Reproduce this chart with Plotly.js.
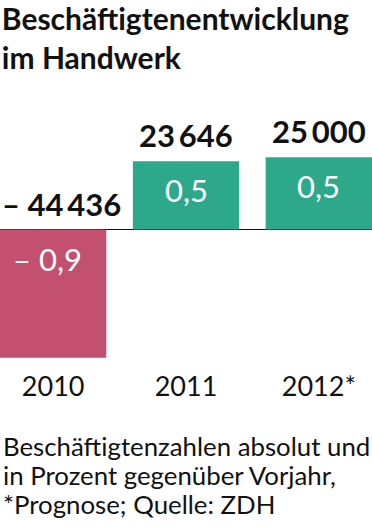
<!DOCTYPE html>
<html>
<head>
<meta charset="utf-8">
<script src="https://cdn.plot.ly/plotly-3.0.1.min.js"></script>
<style>
  html, body { margin: 0; padding: 0; background: #fff; }
  #chart { width: 372px; height: 527px; }
</style>
</head>
<body>
<div id="chart"></div>
<script>
// ---- data ----
const years = ['2010', '2011', '2012*'];
const absolut = [-44436, 23646, 25000];
const prozent = [-0.9, 0.5, 0.5];
const noteLines = [
  'Beschäftigtenzahlen absolut und',
  'in Prozent gegenüber Vorjahr,',
  '*Prognose; Quelle: ZDH'
];
const titleLines = ['Beschäftigtenentwicklung', 'im Handwerk'];

// ---- helpers ----
const FONT = 'Lato, "DejaVu Sans Condensed", sans-serif';
const BAR_WIDTH = 0.8;
function fmtAbs(n) {
  const s = Math.abs(n).toString().replace(/\B(?=(\d{3})+(?!\d))/g, '\u2009');
  return (n < 0 ? '\u2013 ' : '') + s;
}
function fmtPct(p) {
  const s = Math.abs(p).toFixed(1).replace('.', ',');
  return (p < 0 ? '\u2013 ' : '') + s;
}

const colors = absolut.map(v => v < 0 ? '#c4506f' : '#2ea88b');

const trace = {
  type: 'bar',
  x: years,
  y: absolut,
  width: BAR_WIDTH,
  marker: { color: colors, line: { width: 0 } },
  hoverinfo: 'skip'
};

const annotations = [];
years.forEach((yr, i) => {
  const neg = absolut[i] < 0;
  const top = Math.max(absolut[i], 0);
  annotations.push({
    x: neg ? i - BAR_WIDTH / 2 : i, xanchor: neg ? 'left' : 'center',
    y: top, xref: 'x', yref: 'y',
    text: '<b>' + fmtAbs(absolut[i]) + '</b>',
    showarrow: false, yanchor: 'bottom', yshift: 5,
    font: { family: FONT, size: 31, color: '#111' }
  });
  annotations.push({
    x: i, y: top, xref: 'x', yref: 'y', xshift: neg ? -6 : 0,
    text: fmtPct(prozent[i]),
    showarrow: false, yanchor: 'top', yshift: -8,
    font: { family: FONT, size: 31, color: '#ffffff' }
  });
});

const noteY = [455, 484, 513];
noteLines.forEach((ln, i) => {
  annotations.push({
    x: 0, xref: 'paper', xanchor: 'left', xshift: 1,
    y: (365 - noteY[i]) / 265, yref: 'paper', yanchor: 'bottom', yshift: -8,
    text: ln, showarrow: false, align: 'left',
    font: { family: FONT, size: 25.8, color: '#111' }
  });
});

const layout = {
  width: 372, height: 527,
  margin: { l: 0, r: 0, t: 100, b: 162, pad: 0 },
  paper_bgcolor: '#fff', plot_bgcolor: '#fff',
  showlegend: false,
  bargap: 0.2,
  title: {
    text: '<b>' + titleLines.join('<br>') + '</b>',
    x: 0.005, xanchor: 'left', xref: 'paper',
    y: 0.944, yanchor: 'top', yref: 'container',
    font: { family: FONT, size: 30, color: '#111' }
  },
  xaxis: {
    type: 'category',
    range: [-0.4, 2.4],
    showgrid: false, showline: false, zeroline: false,
    ticks: '', ticklabelstandoff: 3,
    tickfont: { family: FONT, size: 27, color: '#111' },
    fixedrange: true
  },
  yaxis: {
    range: [-46920, 44840],
    showgrid: false, showline: false, showticklabels: false, ticks: '',
    zeroline: true, zerolinecolor: '#111', zerolinewidth: 1.6,
    fixedrange: true
  },
  annotations: annotations
};

Plotly.newPlot('chart', [trace], layout, { displayModeBar: false, staticPlot: true });
</script>
</body>
</html>
